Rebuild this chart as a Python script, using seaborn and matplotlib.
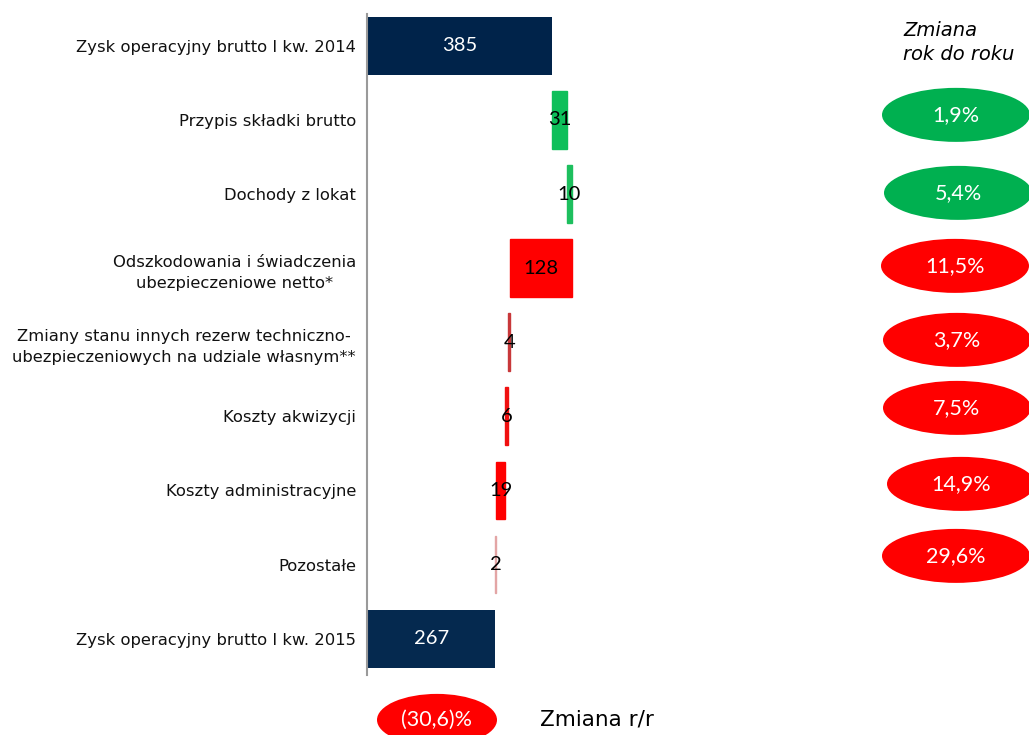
import matplotlib
matplotlib.use("Agg")
import matplotlib.pyplot as plt
from matplotlib.patches import Ellipse
import numpy as np
import pandas as pd
import seaborn as sns

# Waterfall components (PLN m)
categories = [
    "Zysk operacyjny brutto I kw. 2014",
    "Przypis składki brutto",
    "Dochody z lokat",
    "Odszkodowania i świadczenia\nubezpieczeniowe netto*",
    "Zmiany stanu innych rezerw techniczno-\nubezpieczeniowych na udziale własnym**",
    "Koszty akwizycji",
    "Koszty administracyjne",
    "Pozostałe",
    "Zysk operacyjny brutto I kw. 2015",
]
values = [385, 31, 10, -128, -4, -6, -19, -2, 267]
is_total = [True, False, False, False, False, False, False, False, True]
bar_colors = ["#00234A", "#0DBF5A", "#1DBF5E", "#FF0000", "#C8383A",
              "#F01010", "#FF0000", "#E3A5A5", "#05294F"]

# Year-on-year change badges
yoy_labels = ["1,9%", "5,4%", "11,5%", "3,7%", "7,5%", "14,9%", "29,6%"]
yoy_colors = ["#00B050", "#00B050", "#FF0000", "#FF0000", "#FF0000", "#FF0000", "#FF0000"]
total_change = "(30,6)%"

# Floating bar geometry from running totals
lefts, widths = [], []
running = 0
for v, tot in zip(values, is_total):
    if tot:
        lefts.append(0)
        widths.append(v)
        running = v
    else:
        new = running + v
        lefts.append(min(running, new))
        widths.append(abs(v))
        running = new

df = pd.DataFrame({"category": categories, "width": widths})

sns.set_style("white")
plt.rcParams["font.family"] = ["DejaVu Sans"]

fig = plt.figure(figsize=(10.29, 7.35), dpi=100)
px_per_unit = 0.4805
ax_left_px = 367
ax_w_px = 1029 - ax_left_px
ax = fig.add_axes([ax_left_px / 1029, (735 - 675) / 735, ax_w_px / 1029, (675 - 14) / 735])

sns.barplot(data=df, y="category", x="width", orient="h", left=lefts,
            width=0.78, color="#00234A", ax=ax, linewidth=0)
for patch, c, tot in zip(ax.patches, bar_colors, is_total):
    patch.set_facecolor(c)
    if tot:
        patch.set_edgecolor("none")
    else:
        patch.set_edgecolor(c)
        patch.set_linewidth(1.0)

ax.set_xlim(0, ax_w_px / px_per_unit)
ax.set_ylim(8.49, -0.43)

# Spines: only the baseline on the left
for s in ["top", "right", "bottom"]:
    ax.spines[s].set_visible(False)
ax.spines["left"].set_color("#9A9A9A")
ax.spines["left"].set_linewidth(1.5)
ax.set_xticks([])
ax.set_xlabel("")
ax.set_ylabel("")
ax.set_yticks(range(len(categories)))
ax.set_yticklabels(categories, fontsize=11.8, multialignment="center", color="#111111",
                   linespacing=1.5)
ax.tick_params(axis="y", length=0, pad=8)

num_font = "Lato"

# Value labels
for i, (l, w, v, tot) in enumerate(zip(lefts, widths, values, is_total)):
    cx = l + w / 2
    ax.text(cx, i, f"{abs(v)}", ha="center", va="center",
            fontsize=14.5, family=num_font, color="white" if tot else "black")

# Badge column
def px_to_data(px, py):
    return (px - ax_left_px) / px_per_unit, (py - 46) / 74.1

ell_centers = [(956, 115), (958, 193), (955, 266), (957, 340), (957, 408), (961, 484), (956, 556)]
for (px, py), lab, col in zip(ell_centers, yoy_labels, yoy_colors):
    x, y = px_to_data(px, py)
    ax.add_patch(Ellipse((x, y), 148 / px_per_unit, 54 / 74.1, facecolor=col,
                         edgecolor="none", clip_on=False))
    ax.text(x, y, lab, ha="center", va="center", fontsize=15.5, family=num_font,
            color="white", clip_on=False)

fig.text(903 / 1029, 1 - 21 / 735, "Zmiana\nrok do roku", ha="left", va="top",
         fontsize=14, style="italic", color="black", linespacing=1.3)

# Total change badge below the chart
x, y = px_to_data(437, 720)
ax.add_patch(Ellipse((x, y), 120 / px_per_unit, 52 / 74.1, facecolor="#FF0000",
                     edgecolor="none", clip_on=False))
ax.text(x, y, total_change, ha="center", va="center", fontsize=15.5, family=num_font,
        color="white", clip_on=False)
x2, _ = px_to_data(540, 720)
ax.text(x2, y, "Zmiana r/r", ha="left", va="center", fontsize=15.5, color="black",
        clip_on=False)

fig.savefig("out.png", dpi=100)
